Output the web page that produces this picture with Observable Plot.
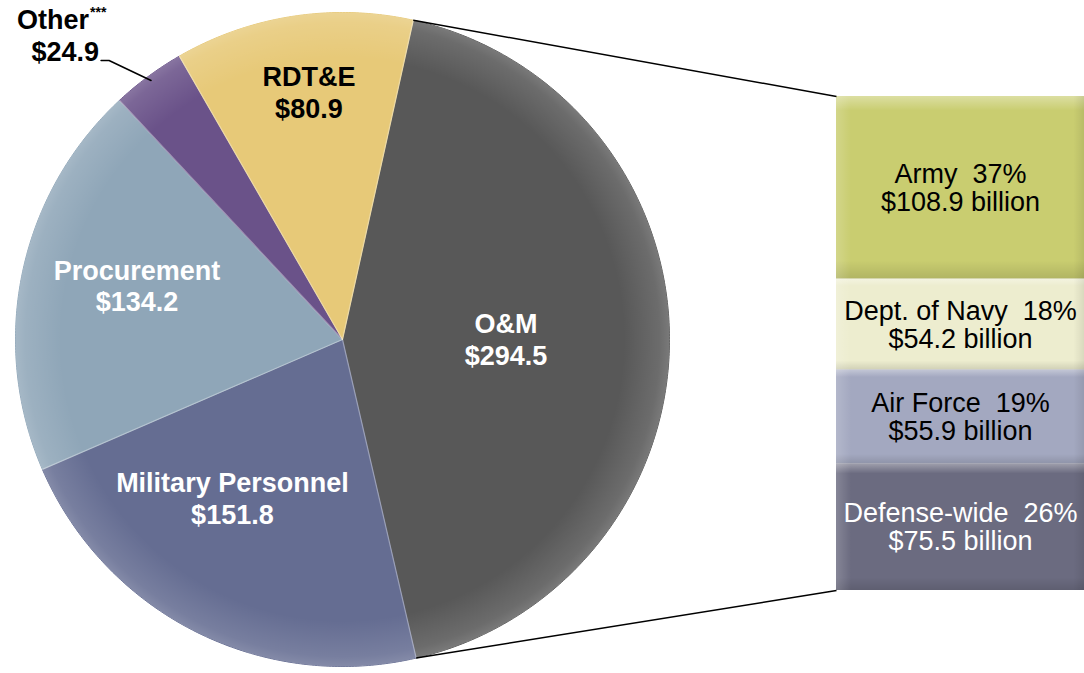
<!DOCTYPE html>
<html><head><meta charset="utf-8">
<script src="https://cdn.jsdelivr.net/npm/d3@7"></script>
<script src="https://cdn.jsdelivr.net/npm/@observablehq/plot@0.6"></script>
<style>body{margin:0;background:#fff;overflow:hidden}</style>
</head><body><div id="chart"></div>
<script>
// ---- data ----
const categories = ["O&M", "Military Personnel", "Procurement", "Other", "RDT&E"];
const values = [294.5, 151.8, 134.2, 24.9, 80.9];
const valueLabels = ["$294.5", "$151.8", "$134.2", "$24.9", "$80.9"];
const omParts = ["Army", "Dept. of Navy", "Air Force", "Defense-wide"];
const omValues = [108.9, 54.2, 55.9, 75.5];
const omShares = ["37%", "18%", "19%", "26%"];
const omLabels = ["$108.9 billion", "$54.2 billion", "$55.9 billion", "$75.5 billion"];

// ---- styles / layout ----
const sliceColors = {"O&M": "#585858", "Military Personnel": "#656d92", "Procurement": "#8fa6b8", "Other": "#6a5289", "RDT&E": "#e7c978"};
const sliceText = {"O&M": "white", "Military Personnel": "white", "Procurement": "white", "Other": "black", "RDT&E": "black"};
const labelPlace = {"O&M": [0.50, 0], "Military Personnel": [0.59, 8], "Procurement": [0.65, 3], "RDT&E": [0.765, 1]};
const partColors = ["#c9cd70", "#ededcf", "#a3a8c0", "#6b6b80"];
const partText = ["black", "black", "black", "white"];
const W = 1084, H = 673, CX = 342, CY = 339, R = 327;
const startDeg = 12.5;
const barX1 = (836 - CX) / R, barX2 = (1086 - CX) / R, barTop = (CY - 96) / R, barH = (590 - 96) / R;
const FONT = "'Liberation Sans', Arial, Helvetica, sans-serif";
const PIE_FS = 27, BAR_FS = 27;

// ---- derived geometry ----
const total = d3.sum(values);
const rad = d => d * Math.PI / 180;
let acc = startDeg;
const slices = categories.map((c, i) => {
  const a0 = acc, a1 = acc + values[i] / total * 360;
  acc = a1;
  return {cat: c, value: values[i], label: valueLabels[i], a0, a1, mid: (a0 + a1) / 2};
});
const polyPts = [];
for (const s of slices) {
  polyPts.push({cat: s.cat, x: 0, y: 0});
  const n = Math.max(4, Math.ceil((s.a1 - s.a0) * 2));
  for (let k = 0; k <= n; k++) {
    const a = rad(s.a0 + (s.a1 - s.a0) * k / n);
    polyPts.push({cat: s.cat, x: Math.sin(a), y: Math.cos(a)});
  }
  polyPts.push({cat: s.cat, x: 0, y: 0});
}
const inside = slices.filter(s => labelPlace[s.cat]).map(s => {
  const [f, nudge] = labelPlace[s.cat];
  const a = rad(s.mid + nudge);
  return {...s, x: f * Math.sin(a), y: f * Math.cos(a), text: s.cat + "\n" + s.label};
});
// stacked O&M breakdown
const omTotal = d3.sum(omValues);
let cum = 0;
const parts = omParts.map((p, i) => {
  const y1 = barTop - cum / omTotal * barH;
  cum += omValues[i];
  const y2 = barTop - cum / omTotal * barH;
  return {part: p, i, y1, y2, ym: (y1 + y2) / 2, text: p + "\u00a0 " + omShares[i] + "\n" + omLabels[i]};
});
const om = slices[0];
const links = [
  {x1: Math.sin(rad(om.a0)), y1: Math.cos(rad(om.a0)), x2: barX1, y2: barTop},
  {x1: Math.sin(rad(om.a1)), y1: Math.cos(rad(om.a1)), x2: barX1, y2: barTop - barH}
];
// "Other" callout
const other = slices[3];
const rimO = {x: 0.985 * Math.sin(rad(other.mid)), y: 0.985 * Math.cos(rad(other.mid))};
const elbow = {x: rimO.x - 42 / R, y: rimO.y + 20 / R};
const leader = [rimO, elbow, {x: elbow.x - 8 / R, y: elbow.y}];

const chart = Plot.plot({
  width: W, height: H,
  margin: 0,
  x: {domain: [-CX / R, (W - CX) / R], axis: null},
  y: {domain: [-(H - CY) / R, CY / R], axis: null},
  color: {type: "identity"},
  style: {fontFamily: FONT, background: "white"},
  marks: [
    Plot.line(polyPts, {x: "x", y: "y", z: "cat", fill: d => sliceColors[d.cat], stroke: d => sliceColors[d.cat], strokeWidth: 1, curve: "linear"}),
    Plot.dot([0], {x: () => 0, y: () => 0, r: R, fill: "url(#rimGrad)", stroke: "none"}),
    Plot.link(slices, {x1: () => 0, y1: () => 0, x2: s => Math.sin(rad(s.a0)), y2: s => Math.cos(rad(s.a0)), stroke: "white", strokeOpacity: 0.35, strokeWidth: 1.2}),
    Plot.rect(parts, {x1: () => barX1, x2: () => barX2, y1: "y1", y2: "y2", fill: d => partColors[d.i]}),
    Plot.rect(parts, {x1: () => barX1, x2: () => barX2, y1: "y1", y2: "y2", fill: "url(#bevelV)"}),
    Plot.rect(parts, {x1: () => barX1, x2: () => barX2, y1: "y1", y2: "y2", fill: "url(#bevelH)"}),
    Plot.link(links, {x1: "x1", y1: "y1", x2: "x2", y2: "y2", stroke: "black", strokeWidth: 1.5}),
    Plot.line(leader, {x: "x", y: "y", stroke: "black", strokeWidth: 1.5}),
    Plot.text(inside, {x: "x", y: "y", text: "text", fill: d => sliceText[d.cat], fontSize: PIE_FS, fontWeight: "bold", lineHeight: 1.17}),
    Plot.text([other], {x: () => elbow.x, y: () => elbow.y, text: d => d.label, textAnchor: "end", dx: -10, dy: -8, fill: "black", fontSize: PIE_FS, fontWeight: "bold"}),
    Plot.text([other], {x: () => elbow.x, y: () => elbow.y, text: d => d.cat, textAnchor: "end", dx: -20, dy: -40, fill: "black", fontSize: PIE_FS, fontWeight: "bold"}),
    Plot.text([other], {x: () => elbow.x, y: () => elbow.y, text: () => "***", textAnchor: "start", dx: -19, dy: -48, fill: "black", fontSize: 14, fontWeight: "bold"}),
    Plot.text(parts, {x: () => (barX1 + barX2 - 2 / R) / 2, y: "ym", text: "text", fill: d => partText[d.i], fontSize: BAR_FS, lineHeight: 1.04, letterSpacing: "-0.3px"})
  ]
});
const svg = d3.select(chart);
const defs = svg.insert("defs", ":first-child");
const rg = defs.append("radialGradient").attr("id", "rimGrad").attr("cx", "50%").attr("cy", "50%").attr("r", "50%");
[[0, 0], [0.86, 0], [0.97, 0.12], [1, 0.2]].forEach(([o, a]) => rg.append("stop").attr("offset", o).attr("stop-color", "white").attr("stop-opacity", a));
const bv = defs.append("linearGradient").attr("id", "bevelV").attr("x1", 0).attr("y1", 0).attr("x2", 0).attr("y2", 1);
[[0, "white", 0.35], [0.08, "white", 0], [0.9, "black", 0], [1, "black", 0.12]].forEach(([o, c, a]) => bv.append("stop").attr("offset", o).attr("stop-color", c).attr("stop-opacity", a));
const bh = defs.append("linearGradient").attr("id", "bevelH").attr("x1", 0).attr("y1", 0).attr("x2", 1).attr("y2", 0);
[[0, "white", 0.18], [0.06, "white", 0], [0.95, "black", 0], [1, "black", 0.1]].forEach(([o, c, a]) => bh.append("stop").attr("offset", o).attr("stop-color", c).attr("stop-opacity", a));
document.getElementById("chart").appendChild(chart);
</script>
</body></html>
